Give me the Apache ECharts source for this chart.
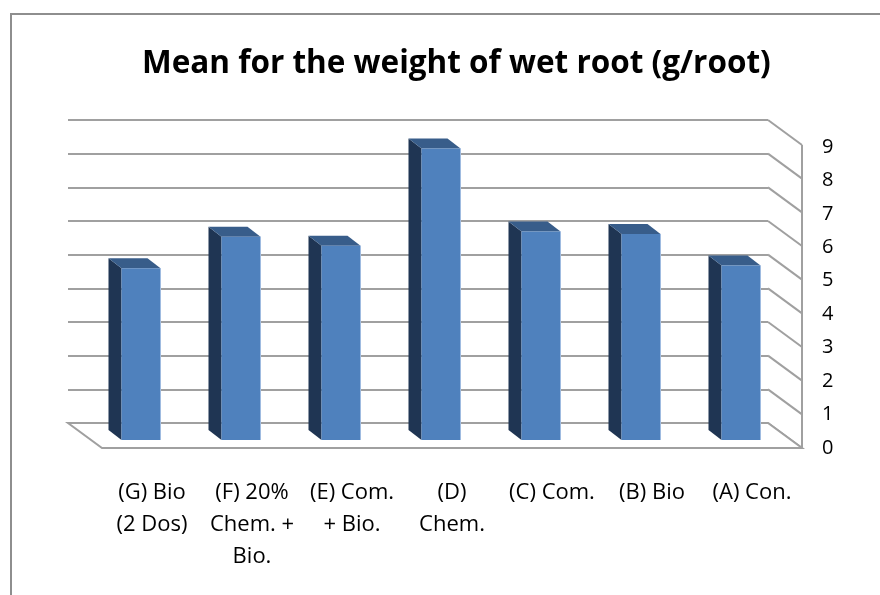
<!DOCTYPE html>
<html>
<head>
<meta charset="utf-8">
<script src="https://cdn.jsdelivr.net/npm/echarts@6/dist/echarts.min.js"></script>
<style>
  html, body { margin: 0; padding: 0; background: #fff; }
  #chart { width: 880px; height: 595px; }
</style>
</head>
<body>
<div id="chart"></div>
<script>
// Treatments, in the order they appear from left to right
const categories = [
  '(G) Bio\n(2 Dos)',
  '(F) 20%\nChem. +\nBio.',
  '(E) Com.\n+ Bio.',
  '(D)\nChem.',
  '(C) Com.',
  '(B) Bio',
  '(A) Con.'
];
// Mean wet root weight, g/root
const values = [5.10, 6.04, 5.77, 8.66, 6.19, 6.12, 5.18];
// Value-axis ticks
const tickValues = [0, 1, 2, 3, 4, 5, 6, 7, 8, 9];

// Oblique projection of the 3-D box (pixels)
const WALL_DX = 34, WALL_DY = 25;            // back wall -> front edge of floor
const BAR_FRONT_DX = 23, BAR_FRONT_DY = 17;  // back wall -> bar front face
const BAR_DEPTH_DX = 13, BAR_DEPTH_DY = 10;  // bar thickness
const BAR_HALF = 19.5;

const GRID_COLOR = '#a0a0a0';
const FRONT = '#4f81bd', SIDE = '#1f3553', TOP = '#385d8a';
const FONT = 'Open Sans';

const chart = echarts.init(document.getElementById('chart'), null, { renderer: 'canvas' });

const option = {
  backgroundColor: '#ffffff',
  animation: false,
  title: {
    text: 'Mean for the weight of wet root (g/root)',
    left: 137,
    top: 43,
    textStyle: { fontFamily: FONT, fontWeight: 'bold', fontSize: 31.5, color: '#000' }
  },
  graphic: [{
    type: 'polyline',
    shape: { points: [[11, 595], [11, 14], [880, 14]] },
    style: { stroke: '#8e8e8e', lineWidth: 2, fill: null },
    silent: true
  }],
  grid: [
    // back wall
    { left: 68, right: 112, top: 120, bottom: 172 },
    // front plane (labels)
    { left: 102, right: 78, top: 147, bottom: 147 }
  ],
  xAxis: [
    { gridIndex: 0, type: 'category', data: categories, show: false },
    {
      gridIndex: 1, type: 'category', data: categories,
      axisLine: { show: false }, axisTick: { show: false },
      axisLabel: {
        interval: 0, margin: 29, color: '#000',
        fontFamily: FONT, fontSize: 22, lineHeight: 32
      }
    }
  ],
  yAxis: [
    {
      gridIndex: 0, type: 'value', min: 0, max: 9, interval: 1,
      axisLine: { show: false }, axisTick: { show: false }, axisLabel: { show: false },
      splitLine: { show: true, lineStyle: { color: GRID_COLOR, width: 2 } }
    },
    {
      gridIndex: 1, type: 'value', position: 'right', min: 0, max: 9, interval: 1,
      axisLine: { show: false }, axisTick: { show: false }, splitLine: { show: false },
      axisLabel: { margin: 20, color: '#000', fontFamily: FONT, fontSize: 20 }
    }
  ],
  series: [
    {
      // side wall lines and floor
      type: 'custom',
      xAxisIndex: 0, yAxisIndex: 0,
      silent: true,
      z: 1,
      data: tickValues.map(v => [0, v]),
      renderItem(params, api) {
        const cs = params.coordSys;
        const xr = cs.x + cs.width;
        const y = api.coord([0, api.value(1)])[1];
        const children = [{
          type: 'line',
          shape: { x1: xr, y1: y, x2: xr + WALL_DX, y2: y + WALL_DY },
          style: { stroke: GRID_COLOR, lineWidth: 2 }
        }];
        if (api.value(1) === 0) {
          const yTop = api.coord([0, tickValues[tickValues.length - 1]])[1];
          children.push({
            type: 'polygon',
            shape: { points: [[cs.x, y], [xr, y], [xr + WALL_DX, y + WALL_DY], [cs.x + WALL_DX, y + WALL_DY]] },
            style: { fill: '#ffffff', stroke: GRID_COLOR, lineWidth: 2 }
          });
          children.push({
            type: 'line',
            shape: { x1: xr + WALL_DX, y1: yTop + WALL_DY, x2: xr + WALL_DX, y2: y + WALL_DY },
            style: { stroke: GRID_COLOR, lineWidth: 2 }
          });
        }
        return { type: 'group', children };
      }
    },
    {
      type: 'custom',
      name: 'Mean',
      xAxisIndex: 0, yAxisIndex: 0,
      z: 3,
      data: values.map((v, i) => [i, v]),
      encode: { x: 0, y: 1 },
      renderItem(params, api) {
        const i = api.value(0), v = api.value(1);
        const base = api.coord([i, 0]);
        const top = api.coord([i, v]);
        const cx = base[0] + BAR_FRONT_DX;
        const by = base[1] + BAR_FRONT_DY;
        const ty = top[1] + BAR_FRONT_DY;
        const l = cx - BAR_HALF, r = cx + BAR_HALF;
        return {
          type: 'group',
          children: [
            {
              type: 'polygon',
              shape: { points: [[l, ty], [l - BAR_DEPTH_DX, ty - BAR_DEPTH_DY], [l - BAR_DEPTH_DX, by - BAR_DEPTH_DY], [l, by]] },
              style: { fill: SIDE }
            },
            {
              type: 'polygon',
              shape: { points: [[l, ty], [r, ty], [r - BAR_DEPTH_DX, ty - BAR_DEPTH_DY], [l - BAR_DEPTH_DX, ty - BAR_DEPTH_DY]] },
              style: { fill: TOP }
            },
            {
              type: 'rect',
              shape: { x: l, y: ty, width: r - l, height: by - ty },
              style: { fill: FRONT }
            },
            {
              type: 'line',
              shape: { x1: r, y1: ty, x2: r, y2: by },
              style: { stroke: '#9fbbe0', lineWidth: 1 }
            }
          ]
        };
      }
    }
  ]
};

chart.setOption(option);
</script>
</body>
</html>
